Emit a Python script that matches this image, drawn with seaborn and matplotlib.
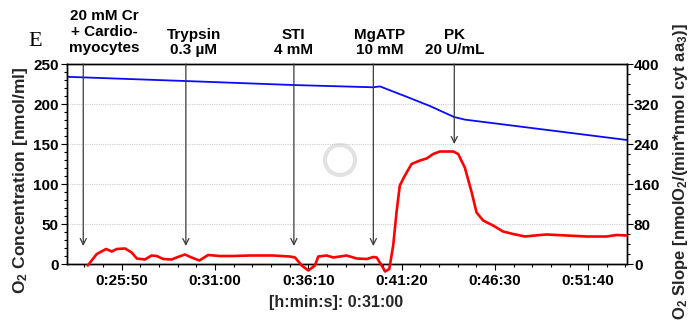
import matplotlib
matplotlib.use("Agg")
import matplotlib.pyplot as plt
import matplotlib.transforms as mtrans
from matplotlib.ticker import FixedLocator, MultipleLocator
from matplotlib.patches import Circle
import seaborn as sns

# ---- data (time in seconds) ----
conc_time = [1368, 1763, 2122, 2385, 2408, 2497, 2574, 2654, 2690, 3229]
conc_value = [234, 228.7, 223.7, 220.9, 222.0, 209, 197.5, 183.8, 180.5, 155]

slope_time = [1437, 1467, 1498, 1517, 1533, 1561, 1583, 1600, 1627, 1649, 1666, 1688,
              1716, 1732, 1760, 1782, 1808, 1837, 1876, 1921, 1976, 2053, 2109, 2126,
              2148, 2170, 2192, 2203, 2231, 2253, 2297, 2331, 2364, 2386, 2397, 2414,
              2425, 2439, 2452, 2463, 2474, 2491, 2513, 2541, 2563, 2585, 2607, 2652,
              2668, 2690, 2713, 2729, 2751, 2784, 2817, 2851, 2890, 2940, 2962, 3028,
              3095, 3161, 3194, 3228]
slope_value = [-3, 20, 30, 25, 30, 31, 23, 11, 9, 17, 16, 10,
               9, 13, 19, 13, 7, 18, 16, 16, 17, 17, 15, 13,
               -3, -13, -3, 15, 17, 13, 17, 11, 10, 14, 13, -3,
               -15, -10, 37, 103, 157, 177, 200, 207, 211, 220, 225, 225,
               220, 193, 143, 103, 87, 77, 65, 60, 55, 58, 59, 57,
               55, 55, 58, 57]

event_time = [1422, 1763, 2122, 2386, 2655]
event_tip = [36, 36, 36, 36, 240]  # in O2 slope units
event_labels = ["20 mM Cr\n+ Cardio-\nmyocytes", "Trypsin\n0.3 µM", "STI\n4 mM",
                "MgATP\n10 mM", "PK\n20 U/mL"]

xtick_times = [1550, 1860, 2170, 2480, 2790, 3100]
xtick_labels = ["0:25:50", "0:31:00", "0:36:10", "0:41:20", "0:46:30", "0:51:40"]
left_ticks = [0, 50, 100, 150, 200, 250]
right_ticks = [0, 80, 160, 240, 320, 400]

# ---- style ----
sns.set_theme(style="white")
plt.rcParams["font.family"] = ["Liberation Sans", "DejaVu Sans"]
plt.rcParams["font.weight"] = "bold"
plt.rcParams["mathtext.fontset"] = "custom"
plt.rcParams["mathtext.rm"] = "Liberation Sans:bold"
plt.rcParams["mathtext.bf"] = "Liberation Sans:bold"
plt.rcParams["mathtext.it"] = "Liberation Sans:bold"
plt.rcParams["mathtext.default"] = "rm"

W, H = 696, 323
fig = plt.figure(figsize=(W / 100, H / 100), dpi=100)
ax = fig.add_axes([67 / W, 59 / H, 560 / W, 200 / H])
ax2 = ax.twinx()

sns.lineplot(x=conc_time, y=conc_value, ax=ax, color="#0a0aff", lw=1.3, zorder=3)
sns.lineplot(x=slope_time, y=slope_value, ax=ax2, color="#ff0000", lw=1.9,
             clip_on=False, zorder=3)

ax.set_xlim(1368, 3229)
ax.set_ylim(0, 250)
ax2.set_ylim(0, 400)

ax.xaxis.set_major_locator(FixedLocator(xtick_times))
ax.set_xticklabels(xtick_labels)
ax.xaxis.set_minor_locator(MultipleLocator(62))
ax.yaxis.set_major_locator(FixedLocator(left_ticks))
ax.yaxis.set_minor_locator(MultipleLocator(10))
ax2.yaxis.set_major_locator(FixedLocator(right_ticks))
ax2.yaxis.set_minor_locator(MultipleLocator(20))

for a in (ax, ax2):
    for s in a.spines.values():
        s.set_color("black")
        s.set_linewidth(1.0)
        s.set_visible(True)
    a.set_xlabel("")
    a.set_ylabel("")

ax.tick_params(axis="both", which="major", direction="out", length=4, width=0.8,
               color="black", labelsize=11, labelcolor="black")
ax.tick_params(axis="both", which="minor", direction="out", length=2, width=0.8,
               color="black")
ax.tick_params(axis="y", which="both", left=True, pad=2)
ax.tick_params(axis="x", which="both", bottom=True, pad=3)
ax2.tick_params(axis="y", which="major", direction="out", length=4, width=0.8,
                color="black", labelsize=11, labelcolor="black", right=True, pad=1)
ax2.tick_params(axis="y", which="minor", direction="out", length=2, width=0.8,
                color="black", right=True)
for lab in ax.get_xticklabels() + ax.get_yticklabels() + ax2.get_yticklabels():
    lab.set_fontweight("bold")

ax.grid(False)
ax2.grid(False)
for v in [50, 100, 150, 200]:
    ax.axhline(v, color="#cfcfcf", lw=0.8, ls=(0, (1, 1)), zorder=1)

# watermark logo
ax.add_artist(Circle((340, H - 160), 15, transform=mtrans.IdentityTransform(),
                     fill=False, edgecolor="#e2e2e2", lw=3, zorder=0.5))

# event arrows
blend = mtrans.blended_transform_factory(ax.transData, ax2.transData)
for t, tip in zip(event_time, event_tip):
    ax2.annotate("", xy=(t, tip), xycoords=blend, xytext=(t, 400), textcoords=blend,
                 arrowprops=dict(arrowstyle="->", color="#3a3a3a", lw=0.9,
                                 shrinkA=0, shrinkB=0, mutation_scale=11))

label_px = [(104, 32), (194, 42.5), (293, 42.5), (380, 42.5), (455, 42.5)]
for (px, py), txt in zip(label_px, event_labels):
    fig.text(px / W, 1 - py / H, txt, ha="center", va="center", fontsize=11,
             fontweight="bold", linespacing=1.15, color="black")

fig.text(35 / W, 1 - 41 / H, "E", ha="center", va="center", fontsize=16,
         family="Liberation Serif", fontweight="normal", color="black")

fig.text(21 / W, 1 - 180 / H, "O$_2$ Concentration [nmol/ml]", rotation=90,
         ha="center", va="center", fontsize=12.5, fontweight="bold")
fig.text(680 / W, 1 - 172 / H, "O$_2$ Slope [nmolO$_2$/(min*nmol cyt aa$_3$)]",
         rotation=90, ha="center", va="center", fontsize=12, fontweight="bold")
fig.text(336 / W, 1 - 302 / H, "[h:min:s]: 0:31:00", ha="center", va="center",
         fontsize=11.5, fontweight="bold")

fig.savefig("out.png", dpi=100)
